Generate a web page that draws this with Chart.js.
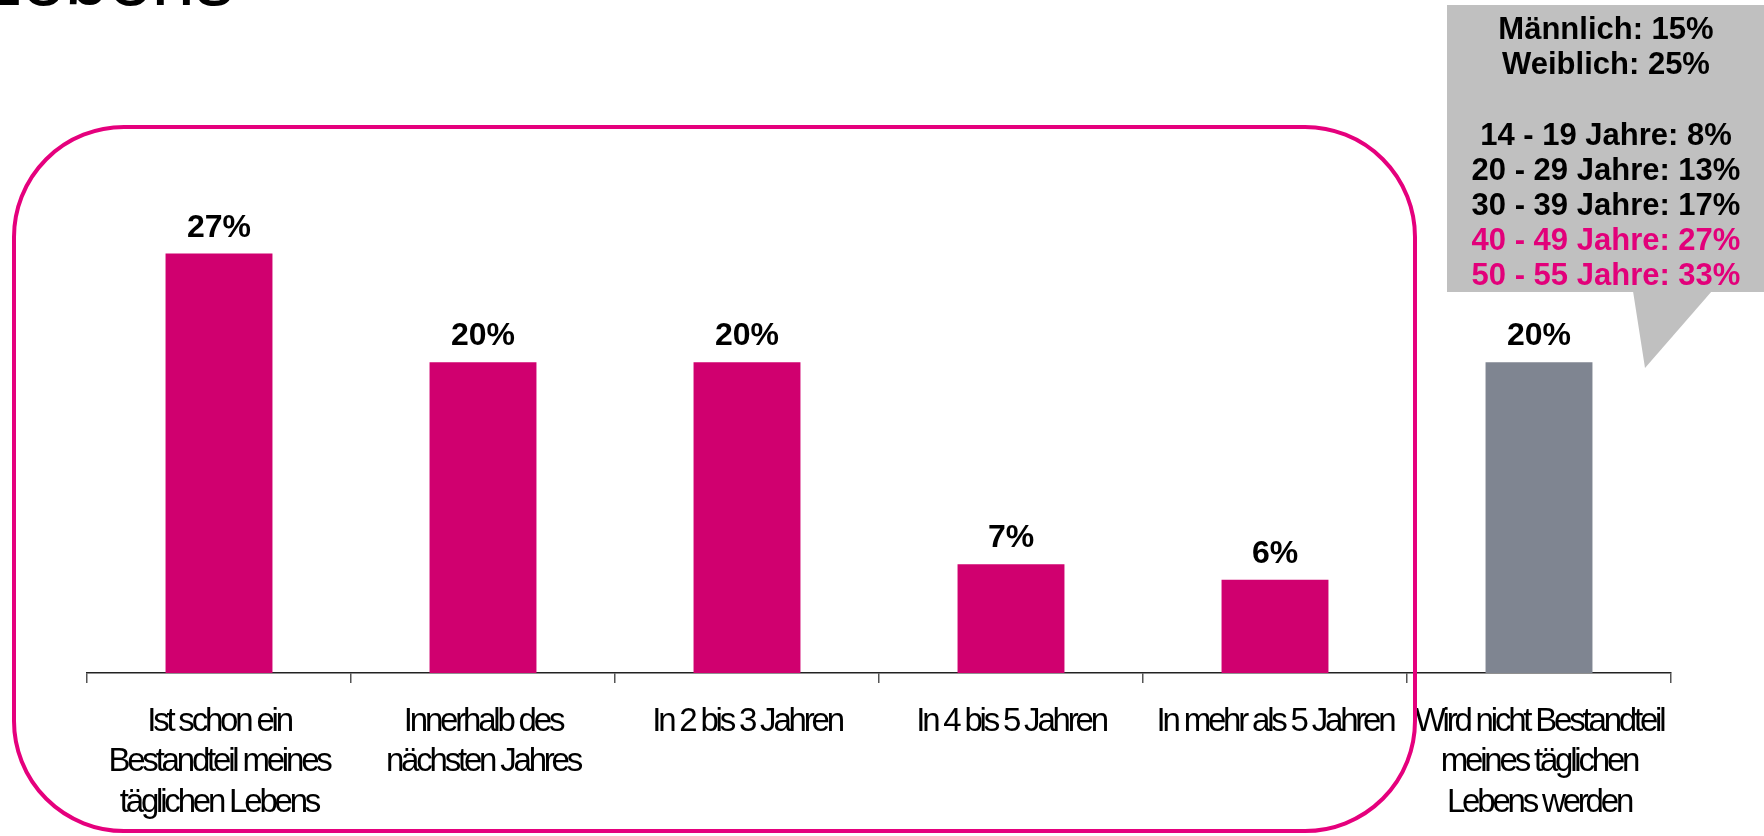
<!DOCTYPE html>
<html>
<head>
<meta charset="utf-8">
<script src="https://cdn.jsdelivr.net/npm/chart.js@4/dist/chart.umd.min.js"></script>
<style>
  html, body { margin: 0; padding: 0; background: #fff; overflow: hidden; }
  #wrap { position: relative; width: 1764px; height: 836px; }
</style>
</head>
<body>
<div id="wrap"><canvas id="chart"></canvas></div>
<script>
// ─── DATA ────────────────────────────────────────────────────────────────
var categories = [
    ['Ist schon ein', 'Bestandteil meines', 'täglichen Lebens'],
    ['Innerhalb des', 'nächsten Jahres'],
    'In 2 bis 3 Jahren',
    'In 4 bis 5 Jahren',
    'In mehr als 5 Jahren',
    ['Wird nicht Bestandteil', 'meines täglichen', 'Lebens werden']
];
var shares = [27, 20, 20, 7, 6, 20];
var calloutLines = [
    'Männlich: 15%',
    'Weiblich: 25%',
    '',
    '14 - 19 Jahre: 8%',
    '20 - 29 Jahre: 13%',
    '30 - 39 Jahre: 17%',
    '40 - 49 Jahre: 27%',
    '50 - 55 Jahre: 33%'
];
var calloutHighlight = [false, false, false, false, false, false, true, true];

// ─── STYLE ───────────────────────────────────────────────────────────────
var FONT = "'Liberation Sans', Arial, sans-serif";
var PINK = '#D0006F';
var PINK_LINE = '#E5007D';
var GREY_BAR = '#7F8591';
var barColors = shares.map(function (v, i) { return i === shares.length - 1 ? GREY_BAR : PINK; });

// condensed look of the category labels
var condensedTicks = {
    id: 'condensedTicks',
    beforeDraw: function (chart) { chart.ctx.letterSpacing = '-3.2px'; },
    beforeDatasetsDraw: function (chart) { chart.ctx.letterSpacing = '0px'; }
};

var valueLabels = {
    id: 'valueLabels',
    afterDatasetsDraw: function (chart) {
        var ctx = chart.ctx;
        var meta = chart.getDatasetMeta(0);
        ctx.save();
        ctx.font = 'bold 32px ' + FONT;
        ctx.fillStyle = '#000';
        ctx.textAlign = 'center';
        ctx.textBaseline = 'alphabetic';
        meta.data.forEach(function (bar, i) {
            ctx.fillText(shares[i] + '%', bar.x, bar.y - 17);
        });
        ctx.restore();
    }
};

var decorations = {
    id: 'decorations',
    afterDraw: function (chart) {
        var ctx = chart.ctx;
        var x = chart.scales.x;
        ctx.save();

        // title fragment cut off at the top
        ctx.font = '78px ' + FONT;
        ctx.fillStyle = '#000';
        ctx.textBaseline = 'alphabetic';
        ctx.fillText('Lebens', -22, 5);

        // rounded frame around the first five categories
        var half = (x.getPixelForValue(1) - x.getPixelForValue(0)) / 2;
        var right = x.getPixelForValue(4) + half + 8;
        ctx.strokeStyle = PINK_LINE;
        ctx.lineWidth = 4;
        ctx.beginPath();
        ctx.roundRect(14, 127, right - 14, 704, 110);
        ctx.stroke();

        // grey speech bubble
        ctx.fillStyle = '#C0C0C0';
        ctx.fillRect(1447, 5, 320, 287);
        ctx.beginPath();
        ctx.moveTo(1633, 291);
        ctx.lineTo(1712, 291);
        ctx.lineTo(1645, 368);
        ctx.closePath();
        ctx.fill();

        ctx.font = 'bold 31px ' + FONT;
        ctx.textAlign = 'center';
        calloutLines.forEach(function (line, i) {
            ctx.fillStyle = calloutHighlight[i] ? '#E2007A' : '#000';
            ctx.fillText(line, 1606, 39 + i * 35.2);
        });
        ctx.restore();
    }
};

new Chart(document.getElementById('chart'), {
    type: 'bar',
    data: {
        labels: categories,
        datasets: [{
            data: shares,
            backgroundColor: barColors,
            borderWidth: 0,
            categoryPercentage: 1,
            barPercentage: 0.405
        }]
    },
    options: {
        responsive: true,
        maintainAspectRatio: false,
        animation: false,
        layout: { padding: { left: 87, right: 93, top: 207, bottom: 0 } },
        plugins: { legend: { display: false }, tooltip: { enabled: false } },
        scales: {
            x: {
                afterFit: function (s) { s.height = 163; },
                grid: {
                    display: true, drawOnChartArea: false, drawTicks: true,
                    tickLength: 10, color: '#555', lineWidth: 1.5
                },
                border: { display: true, color: '#222', width: 1.5 },
                ticks: {
                    color: '#000', padding: 19, maxRotation: 0, autoSkip: false,
                    font: { family: FONT, size: 33, lineHeight: 1.22 }
                }
            },
            y: { display: false, min: 0, max: 30 }
        }
    },
    plugins: [condensedTicks, valueLabels, decorations]
});
</script>
</body>
</html>
